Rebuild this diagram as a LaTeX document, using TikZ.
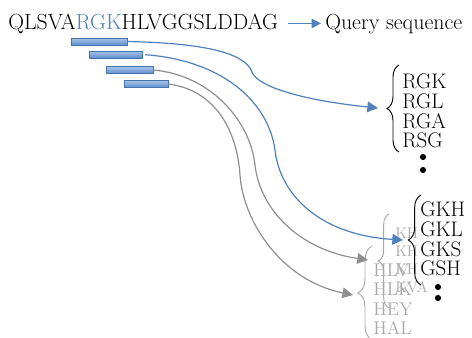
\documentclass[tikz,border=0pt]{standalone}
\usepackage{fontspec}
\usepackage{xcolor}
\usepackage{tikz}
\usetikzlibrary{arrows.meta, positioning, decorations.pathreplacing}

\definecolor{seqblue}{HTML}{4F81BD}
\definecolor{bartop}{HTML}{A9C4E8}
\definecolor{barbottom}{HTML}{5E8ECF}
\definecolor{barline}{HTML}{4472AD}
\definecolor{hitgray}{HTML}{8F8F8F}
\definecolor{fadegray}{HTML}{A9A9A9}

\tikzset{
  seqtext/.style={
    inner sep=0pt, font=\fontsize{16.4}{19}\selectfont
  },
  kmerbar/.style={
    draw=barline, line width=0.6pt, top color=bartop,
    bottom color=barbottom, minimum height=5.2pt, inner sep=0pt
  },
  seqarrow/.style={
    -{Triangle[length=7pt,width=7pt]}, line width=0.8pt, color=seqblue
  },
  hitarrow/.style={
    -{Triangle[length=8pt,width=8pt]}, line width=0.9pt
  },
  hitlist/.style={
    align=left, inner sep=0pt, font=\fontsize{15.8}{14.8}\selectfont
  },
  fadelist/.style={
    align=left, inner sep=0pt, text=fadegray
  },
  listbrace/.style={
    decorate, decoration={brace, amplitude=#1}, line width=0.7pt
  },
}

\begin{document}
\begin{tikzpicture}[x=0.75pt, y=-0.75pt]
  \useasboundingbox (0,0) rectangle (472,337);

  % --- Query sequence ---
  \node[seqtext, anchor=base west] (query) at (8,29)
    {QLSVA\textcolor{seqblue}{RGK}HLVGGSLDDAG};
  \node[seqtext, anchor=base west] (qlabel) at (325,29) {Query sequence};
  \draw[seqarrow, shorten <=7pt, shorten >=3pt]
    (query.east) -- (qlabel.west |- query.east);

  % --- Sliding words ---
  \node[kmerbar, minimum width=42pt] (k1) at (99,41.5) {};
  \node[kmerbar, minimum width=39.75pt] (k2) at (115.5,54.5) {};
  \node[kmerbar, minimum width=35.25pt] (k3) at (129.5,70) {};
  \node[kmerbar, minimum width=33pt] (k4) at (146,84) {};

  % --- Faded neighbour lists (behind) ---
  \node[fadelist, font=\fontsize{13.8}{14.6}\selectfont, anchor=west]
    (hllist) at (373,299) {HLV\\HLK\\HEY\\HAL};
  \node[fadelist, font=\fontsize{11.5}{13.4}\selectfont, anchor=west]
    (khlist) at (395,260.5) {KH\\KH\\KH\\KVA};
  \draw[listbrace=10.5pt, fadegray] (372,340) -- (372,246);
  \draw[listbrace=8pt, fadegray] (389,308) -- (389,214);

  % --- Neighbour lists ---
  \node[hitlist, anchor=west] (rgklist) at (402,111)
    {RGK\\RGL\\RGA\\RSG};
  \node[hitlist, anchor=west] (gkhlist) at (420,239)
    {GKH\\GKL\\GKS\\GSH};
  \draw[listbrace=9pt] (399,152) -- (399,65);
  \draw[listbrace=9.5pt] (421,285) -- (421,195);

  \fill (423,157) circle (2.3pt);
  \fill (423,170) circle (2.3pt);
  \fill (438,287) circle (2.3pt);
  \fill (438,298) circle (2.3pt);

  % brace tips
  \coordinate (rgkin) at (378,108);
  \coordinate (gkhin) at (403,240);
  \coordinate (khin) at (368,260);
  \coordinate (hlin) at (353,295);

  % Arrows
  \draw[hitarrow, color=seqblue]
    (k1.east) .. controls (200,43) and (245,52) .. (252,72)
    .. controls (257,86) and (300,100) .. (rgkin);
  \draw[hitarrow, color=seqblue, shorten <=2pt]
    (k2.east) .. controls (220,60) and (268,100) .. (275,150)
    .. controls (280,195) and (320,235) .. (gkhin);
  \draw[hitarrow, color=hitgray]
    (k3.east) .. controls (210,75) and (250,120) .. (255,165)
    .. controls (260,210) and (300,250) .. (khin);
  \draw[hitarrow, color=hitgray]
    (k4.east) .. controls (215,90) and (237,130) .. (240,175)
    .. controls (243,220) and (280,280) .. (hlin);
\end{tikzpicture}
\end{document}
